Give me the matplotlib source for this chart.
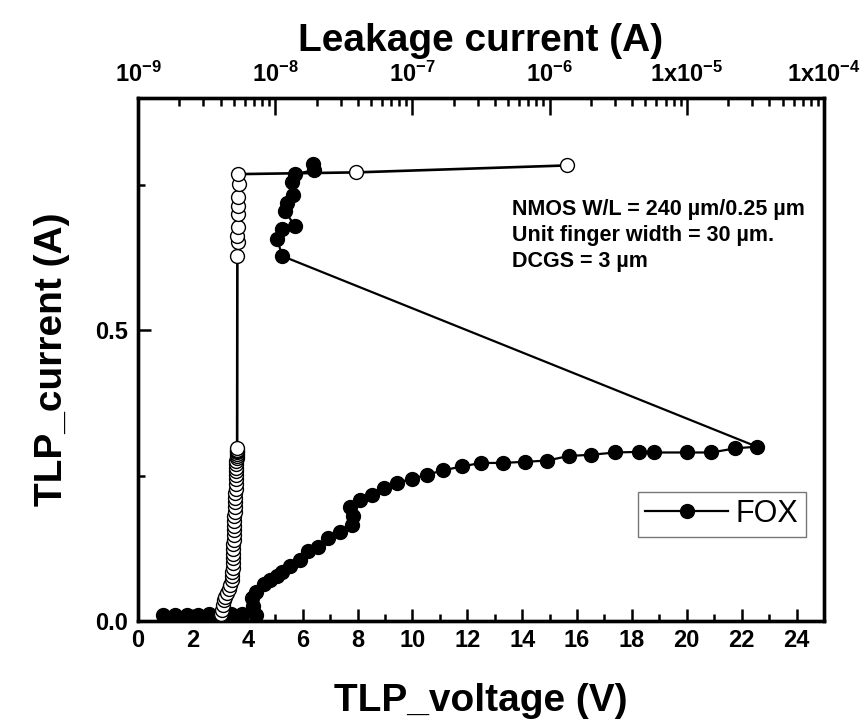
import matplotlib
matplotlib.use("Agg")
import matplotlib.pyplot as plt
from matplotlib.ticker import MultipleLocator, LogLocator, FixedLocator, NullFormatter

plt.rcParams['font.family'] = ['Liberation Sans', 'DejaVu Sans']
plt.rcParams['mathtext.fontset'] = 'custom'
plt.rcParams['mathtext.rm'] = 'Liberation Sans:bold'
plt.rcParams['mathtext.bf'] = 'Liberation Sans:bold'
plt.rcParams['mathtext.it'] = 'Liberation Sans:bold'

# TLP I-V (FOX) : voltage (V) and current (A)
FOX_V = [0.9, 1.35, 1.8, 2.2, 2.6, 3.0, 3.4, 3.8, 4.3, 4.2, 4.15, 4.3, 4.6, 4.8, 5.05, 5.25,
         5.55, 5.9, 6.2, 6.57, 6.93, 7.37, 7.8, 7.85, 7.74, 8.1, 8.54, 8.95, 9.45, 10.0, 10.55,
         11.1, 11.8, 12.5, 13.3, 14.1, 14.9, 15.7, 16.5, 17.4, 18.25, 18.8, 20.0, 20.9, 21.75,
         22.55, 5.26, 5.07, 5.26, 5.73, 5.36, 5.44, 5.66, 5.62, 5.73, 6.42, 6.39]
FOX_I = [0.010, 0.011, 0.011, 0.011, 0.012, 0.012, 0.012, 0.012, 0.010, 0.025, 0.040, 0.050,
         0.063, 0.070, 0.078, 0.085, 0.095, 0.105, 0.120, 0.128, 0.143, 0.154, 0.166, 0.180,
         0.197, 0.209, 0.217, 0.229, 0.238, 0.245, 0.252, 0.259, 0.266, 0.272, 0.272, 0.274,
         0.276, 0.284, 0.286, 0.290, 0.291, 0.290, 0.290, 0.290, 0.297, 0.300, 0.628, 0.657,
         0.674, 0.679, 0.705, 0.720, 0.733, 0.755, 0.769, 0.776, 0.786]

# Leakage current (A) measured after each pulse, vs TLP current (A)
LEAK_I = [0.005, 0.008, 0.010, 0.012, 0.019, 0.028, 0.036, 0.042, 0.048, 0.055, 0.062, 0.071,
          0.078, 0.085, 0.092, 0.100, 0.108, 0.116, 0.124, 0.132, 0.140, 0.148, 0.156, 0.164,
          0.172, 0.180, 0.188, 0.196, 0.204, 0.212, 0.220, 0.228, 0.236, 0.244, 0.251, 0.258,
          0.264, 0.270, 0.275, 0.280, 0.284, 0.288, 0.291, 0.293, 0.295, 0.297,
          0.628, 0.653, 0.662, 0.678, 0.700, 0.714, 0.729, 0.752, 0.769, 0.772, 0.784]
LEAK_A = [4.02e-9, 4.02e-9, 4.02e-9, 4.05e-9, 4.08e-9, 4.15e-9, 4.22e-9, 4.30e-9, 4.44e-9,
          4.60e-9, 4.67e-9, 4.83e-9, 4.85e-9, 4.88e-9, 4.90e-9, 4.90e-9, 4.92e-9, 4.93e-9,
          4.95e-9, 4.96e-9, 4.98e-9, 5.00e-9, 5.00e-9, 5.02e-9, 5.04e-9, 5.05e-9, 5.06e-9,
          5.08e-9, 5.10e-9, 5.10e-9, 5.12e-9, 5.14e-9, 5.15e-9, 5.17e-9, 5.18e-9, 5.20e-9,
          5.20e-9, 5.22e-9, 5.22e-9, 5.24e-9, 5.24e-9, 5.25e-9, 5.26e-9, 5.26e-9, 5.27e-9,
          5.28e-9, 5.30e-9, 5.40e-9, 5.30e-9, 5.40e-9, 5.35e-9, 5.40e-9, 5.40e-9, 5.45e-9,
          5.35e-9, 3.9e-8, 1.35e-6]

TOP_TICKS = [1e-9, 1e-8, 1e-7, 1e-6, 1e-5, 1e-4]
TOP_LABELS = [r'$\mathbf{10^{-9}}$', r'$\mathbf{10^{-8}}$', r'$\mathbf{10^{-7}}$',
              r'$\mathbf{10^{-6}}$', r'$\mathbf{1x10^{-5}}$', r'$\mathbf{1x10^{-4}}$']
ANNOT = ['NMOS W/L = 240 \u00b5m/0.25 \u00b5m', 'Unit finger width = 30 \u00b5m.', 'DCGS = 3 \u00b5m']

fig = plt.figure(figsize=(8.64, 7.27), dpi=100)
ax = fig.add_axes([138/864, 1-621/727, (824-138)/864, (621-98)/727])

ax.plot(FOX_V, FOX_I, '-o', color='black', lw=1.6, ms=10, mfc='black', mec='black',
        label='FOX', zorder=3)
ax.set_xlim(0, 25)
ax.set_ylim(0, 0.9)
ax.xaxis.set_major_locator(MultipleLocator(2))
ax.xaxis.set_minor_locator(MultipleLocator(1))
ax.yaxis.set_major_locator(MultipleLocator(0.5))
ax.yaxis.set_minor_locator(MultipleLocator(0.25))
ax.yaxis.set_major_formatter(matplotlib.ticker.FormatStrFormatter('%.1f'))
ax.tick_params(axis='both', which='major', direction='in', length=9, width=1.8,
               labelsize=17, top=False, right=False)
ax.tick_params(axis='both', which='minor', direction='in', length=5, width=1.8,
               top=False, right=False)
for lab in ax.get_xticklabels() + ax.get_yticklabels():
    lab.set_fontweight('bold')
ax.tick_params(axis='x', pad=6)
ax.tick_params(axis='y', pad=7)
for sp in ax.spines.values():
    sp.set_linewidth(2.4)

ax.set_xlabel('TLP_voltage (V)', fontsize=28, fontweight='bold', labelpad=22)
ax.set_ylabel('TLP_current (A)', fontsize=28, fontweight='bold', labelpad=18)

for k, t in enumerate(ANNOT):
    ax.text(13.63, 0.708 - k*0.045, t, fontsize=15.5, fontweight='bold', va='center', ha='left')

leg = ax.legend(loc='lower right', bbox_to_anchor=(0.9735, 0.161), fontsize=22,
                frameon=True, fancybox=False, handlelength=2.7, borderpad=0.25,
                handletextpad=0.25, borderaxespad=0)
leg.get_frame().set_edgecolor('#555555')
leg.get_frame().set_linewidth(1.0)

ax2 = ax.twiny()
ax2.plot(LEAK_A, LEAK_I, '-o', color='black', lw=1.9, ms=10, mfc='white', mec='black',
         mew=1.0, zorder=4)
ax2.set_xscale('log')
ax2.set_xlim(1e-9, 1e-4)
ax2.set_ylim(0, 0.9)
ax2.xaxis.set_major_locator(FixedLocator(TOP_TICKS))
ax2.set_xticklabels(TOP_LABELS)
ax2.xaxis.set_minor_locator(LogLocator(base=10, subs=[2, 3, 4, 5, 6, 7, 8, 9], numticks=20))
ax2.xaxis.set_minor_formatter(NullFormatter())
ax2.tick_params(axis='x', which='major', direction='in', length=12, width=1.8,
                labelsize=17, pad=8)
ax2.tick_params(axis='x', which='minor', direction='in', length=6, width=1.8)
ax2.set_xlabel('Leakage current (A)', fontsize=28, fontweight='bold', labelpad=8)
for sp in ax2.spines.values():
    sp.set_linewidth(2.4)

fig.savefig('out.png', dpi=100)
